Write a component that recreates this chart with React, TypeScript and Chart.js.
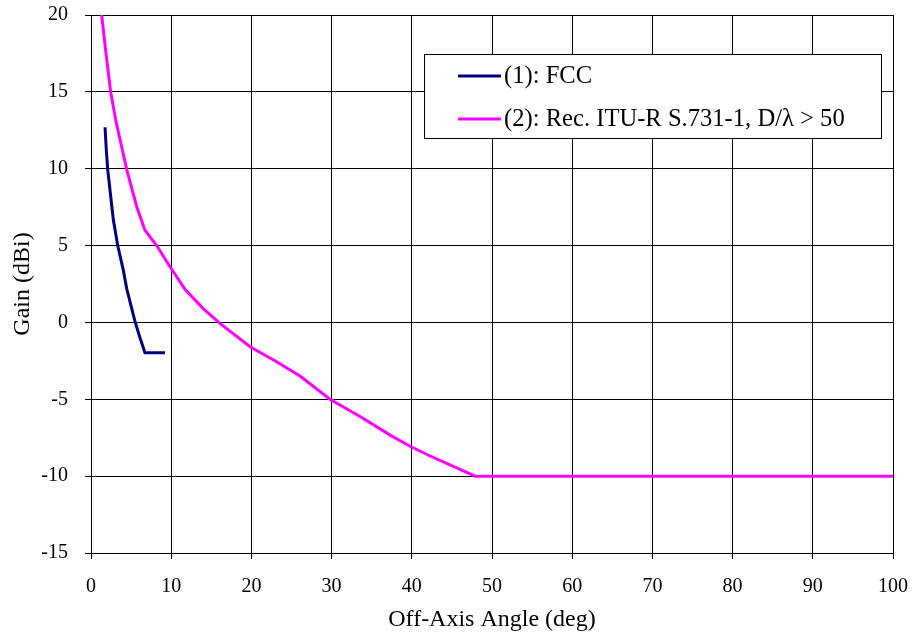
import React, { useEffect, useRef } from "react";
import { Chart, registerables } from "chart.js";

Chart.register(...registerables);

const fccAngle = [1.75, 1.91, 2.08, 2.79, 3.33, 4.03, 4.45, 5.49, 6.11, 6.73, 9.23];
const fccGain = [12.7, 11.2, 9.96, 6.66, 5.0, 3.4, 2.2, 0.05, -1.0, -1.97, -1.97];

const ituAngle = [1.33, 1.87, 2.45, 3.08, 4.45, 5.7, 6.73, 8.19, 9.85, 11.72, 14.0, 16.08, 19.83, 23.15, 26.06, 29.8, 33.6, 37.3, 39.9, 42.3, 47.9, 100];
const ituGain = [20, 17.5, 15.0, 13.17, 9.96, 7.53, 6.0, 5.0, 3.62, 2.15, 0.9, -0.06, -1.58, -2.56, -3.49, -5.0, -6.14, -7.33, -8.09, -8.69, -10, -10];

const seriesLabels = ["(1): FCC", "(2): Rec. ITU-R S.731-1, D/\u03bb > 50"];
const seriesColors = ["#000080", "#FF00FF"];
const xTitle = "Off-Axis Angle (deg)";
const yTitle = "Gain (dBi)";

const FONT = "'Liberation Serif', 'Times New Roman', serif";

const legendPlugin = {
  id: "insideLegend",
  afterDatasetsDraw(chart: any) {
    const ctx = chart.ctx;
    const x0 = 424, y0 = 54, w = 457, h = 84;
    ctx.save();
    ctx.fillStyle = "#fff";
    ctx.fillRect(x0, y0, w, h);
    ctx.strokeStyle = "#000";
    ctx.lineWidth = 1;
    ctx.strokeRect(x0 + 0.5, y0 + 0.5, w, h);
    ctx.font = `24.6px ${FONT}`;
    ctx.textBaseline = "middle";
    ctx.fillStyle = "#000";
    const rows = [76, 119];
    seriesLabels.forEach((lab, i) => {
      ctx.strokeStyle = seriesColors[i];
      ctx.lineWidth = 3;
      ctx.beginPath();
      ctx.moveTo(458, rows[i]);
      ctx.lineTo(501, rows[i]);
      ctx.stroke();
      ctx.fillText(lab, 504, rows[i] + 1);
    });
    ctx.restore();
  },
};

const zeroPad = (s: any) => {
  s.paddingTop = 0;
  s.paddingBottom = 0;
  s.paddingLeft = 0;
  s.paddingRight = 0;
};

export default function App() {
  const ref = useRef<HTMLCanvasElement>(null);
  useEffect(() => {
    if (!ref.current) return;
    const chart = new Chart(ref.current, {
      type: "line",
      data: {
        datasets: [
          {
            label: seriesLabels[0],
            data: fccAngle.map((a, i) => ({ x: a, y: fccGain[i] })),
            borderColor: seriesColors[0],
            borderWidth: 3,
            pointRadius: 0,
            tension: 0,
            fill: false,
          },
          {
            label: seriesLabels[1],
            data: ituAngle.map((a, i) => ({ x: a, y: ituGain[i] })),
            borderColor: seriesColors[1],
            borderWidth: 3,
            pointRadius: 0,
            tension: 0,
            fill: false,
          },
        ],
      },
      options: {
        animation: false,
        responsive: false,
        maintainAspectRatio: false,
        layout: { padding: { left: 0, top: 15, right: 23, bottom: 0 } },
        plugins: { legend: { display: false }, tooltip: { enabled: false } },
        scales: {
          x: {
            type: "linear",
            min: 0,
            max: 100,
            ticks: { stepSize: 10, color: "#000", font: { family: FONT, size: 20 }, padding: 16, maxRotation: 0 },
            grid: { color: "#000", lineWidth: 1, tickLength: 6, drawTicks: true },
            border: { color: "#000", width: 1 },
            title: { display: true, text: xTitle, color: "#000", font: { family: FONT, size: 24 }, padding: { top: 0, bottom: 6 } },
            afterFit: (s: any) => { s.height = 87; zeroPad(s); },
          },
          y: {
            type: "linear",
            min: -15,
            max: 20,
            ticks: { stepSize: 5, color: "#000", font: { family: FONT, size: 20 }, padding: 17 },
            grid: { color: "#000", lineWidth: 1, tickLength: 6, drawTicks: true },
            border: { color: "#000", width: 1 },
            title: { display: true, text: yTitle, color: "#000", font: { family: FONT, size: 24 }, padding: { top: 8, bottom: 0 } },
            afterFit: (s: any) => { s.width = 91; zeroPad(s); },
          },
        },
      },
      plugins: [legendPlugin],
    });
    return () => chart.destroy();
  }, []);
  return (
    <div style={{ position: "fixed", left: 0, top: 0, width: 916, height: 640, background: "#fff" }}>
      <canvas ref={ref} width={916} height={640} style={{ width: 916, height: 640 }} />
    </div>
  );
}
